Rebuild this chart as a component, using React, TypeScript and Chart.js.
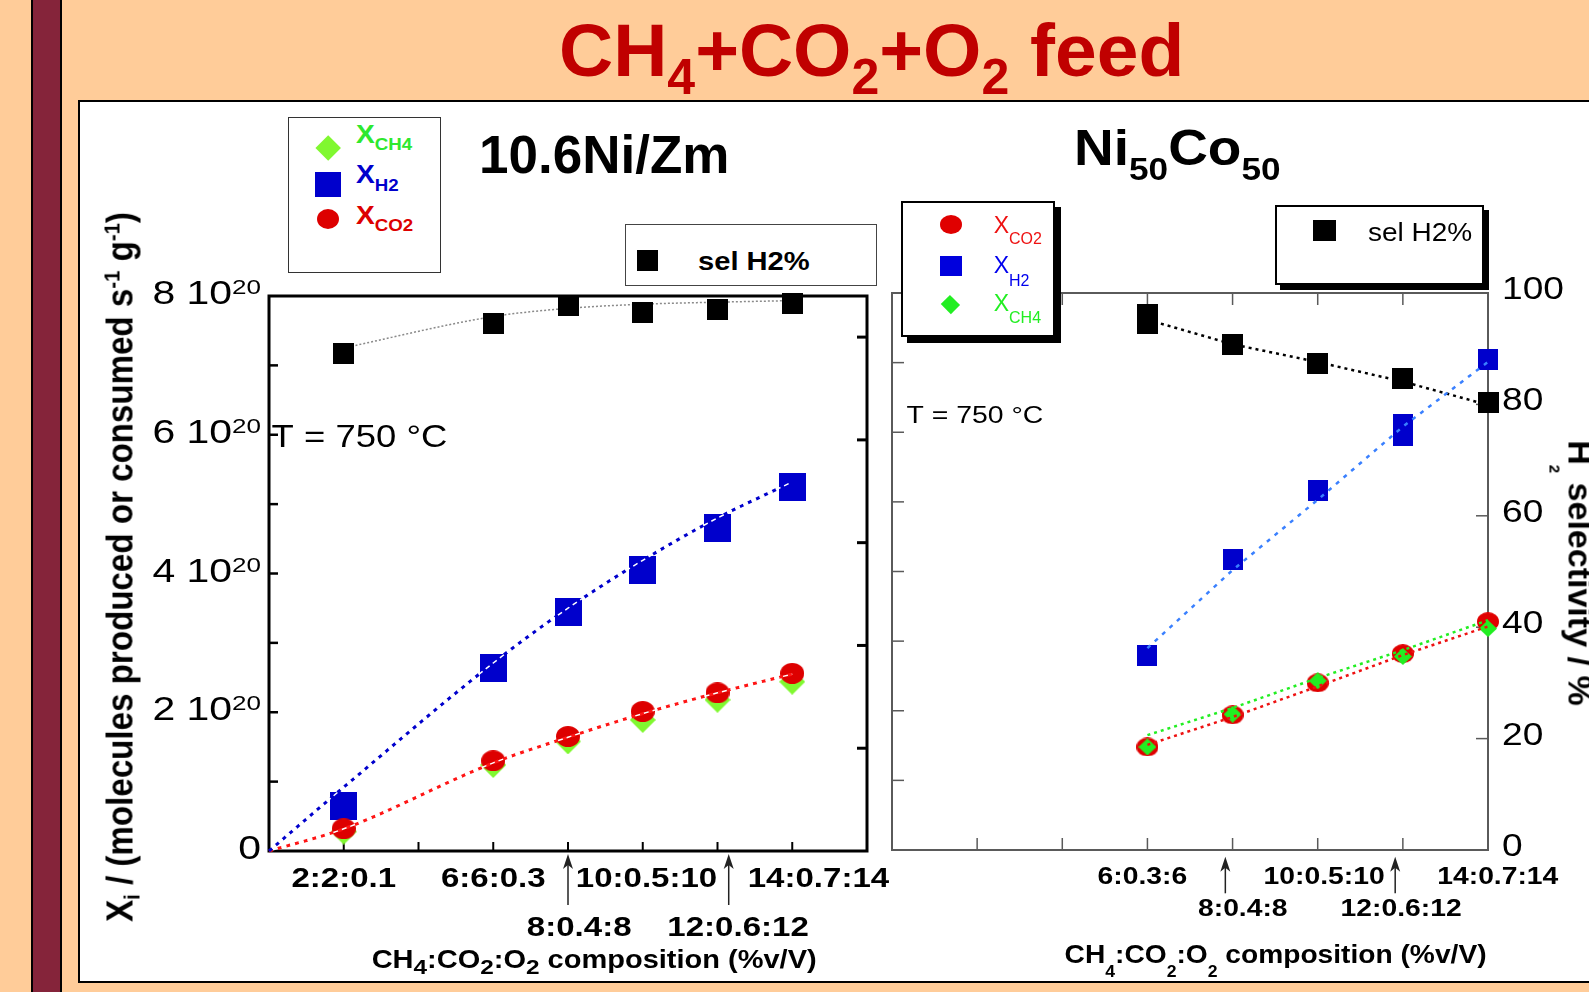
import React, { useEffect, useRef } from 'react';
import { Chart, registerables } from 'chart.js';
Chart.register(...registerables);

const FONT = "'Liberation Sans', Arial, Helvetica, sans-serif";

// ---------------- Left panel: 10.6Ni/Zm ----------------
const leftComposition = [2, 6, 8, 10, 12, 14]; // CH4 %v/V
const leftSelH2 = [96.9, 102.7, 106.2, 104.8, 105.4, 106.6];
const leftXH2 = [0.65, 2.64, 3.44, 4.05, 4.65, 5.24];
const leftXCO2 = [0.32, 1.3, 1.65, 2.01, 2.28, 2.56];
const leftXCH4 = [0.28, 1.24, 1.58, 1.89, 2.18, 2.44];
const leftFitComposition = [0, 2, 6, 8, 10, 12, 14];
const leftFitH2 = [0, 0.92, 2.71, 3.5, 4.19, 4.8, 5.32];
const leftFitCO2 = [0, 0.32, 1.27, 1.64, 1.98, 2.28, 2.55];
const leftFitSel = [97.9, 104.0, 105.6, 106.4, 106.8, 107.1];
const leftRow1Labels = ['2:2:0.1', '6:6:0.3', '10:0.5:10', '14:0.7:14'];
const leftRow2Labels = ['8:0.4:8', '12:0.6:12'];
const leftYTickValues = [0, 2, 4, 6, 8];
const leftYTickMantissas = ['0', '2 10', '4 10', '6 10', '8 10'];
const leftYTickExponents = ['', '20', '20', '20', '20'];

// ---------------- Right panel: Ni50Co50 ----------------
const rightComposition = [6, 8, 10, 12, 14];
const rightSelComposition = [6, 6, 8, 10, 12, 14];
const rightSelH2 = [96.1, 94.6, 90.8, 87.3, 84.6, 80.3];
const rightSelFit = [95.2, 90.8, 87.6, 84.1, 79.9];
const rightH2Composition = [6, 8, 10, 12, 12, 14];
const rightXH2 = [2.79, 4.17, 5.17, 6.11, 5.95, 7.04];
const rightXCO2 = [1.48, 1.94, 2.4, 2.82, 3.28];
const rightXCH4 = [1.48, 1.95, 2.43, 2.78, 3.18];
const rightFitH2 = [2.9, 4.02, 5.03, 6.08, 7.01];
const rightFitCO2 = [1.51, 1.91, 2.35, 2.8, 3.21];
const rightFitCH4 = [1.65, 2.04, 2.47, 2.87, 3.3];
const rightRow1Labels = ['6:0.3:6', '10:0.5:10', '14:0.7:14'];
const rightRow2Labels = ['8:0.4:8', '12:0.6:12'];
const rightY2TickValues = [0, 20, 40, 60, 80, 100];

// layout (label anchor positions in axis units)
const LEFT_LAYOUT = { row1At: [2, 6, 10.1, 14.7], row2At: [8.3, 12.55], arrowsAt: [8, 12.3], titleAt: 8.7, tAt: [0.07, 5.83] };
const RIGHT_LAYOUT = { row1At: [5.88, 10.15, 14.23], row2At: [8.24, 11.96], arrowsAt: [7.83, 11.82], titleAt: 9.01, tAt: [0.34, 6.14] };

type Seg = { t: string; size: number; bold?: boolean; dy?: number };

function drawRich(ctx: CanvasRenderingContext2D, segs: Seg[], x: number, y: number, align: string, stretch: number, color: string) {
  ctx.save();
  ctx.fillStyle = color;
  ctx.textBaseline = 'alphabetic';
  ctx.textAlign = 'left';
  let w = 0;
  const widths = segs.map((s) => {
    ctx.font = `${s.bold ? 'bold ' : ''}${s.size}px ${FONT}`;
    const m = ctx.measureText(s.t).width;
    w += m;
    return m;
  });
  const total = w * stretch;
  const x0 = align === 'left' ? x : align === 'center' ? x - total / 2 : x - total;
  ctx.translate(x0, y);
  ctx.scale(stretch, 1);
  let cx = 0;
  segs.forEach((s, i) => {
    ctx.font = `${s.bold ? 'bold ' : ''}${s.size}px ${FONT}`;
    ctx.fillText(s.t, cx, s.dy || 0);
    cx += widths[i];
  });
  ctx.restore();
}

function seg(ctx: CanvasRenderingContext2D, x1: number, y1: number, x2: number, y2: number) {
  ctx.beginPath();
  ctx.moveTo(x1, y1);
  ctx.lineTo(x2, y2);
  ctx.stroke();
}

function arrow(ctx: CanvasRenderingContext2D, x: number, yTip: number, yTail: number) {
  ctx.save();
  ctx.strokeStyle = '#222';
  ctx.fillStyle = '#222';
  ctx.lineWidth = 1.5;
  seg(ctx, x, yTail, x, yTip + 6);
  ctx.beginPath();
  ctx.moveTo(x, yTip);
  ctx.lineTo(x - 5, yTip + 15);
  ctx.lineTo(x, yTip + 11);
  ctx.lineTo(x + 5, yTip + 15);
  ctx.closePath();
  ctx.fill();
  ctx.restore();
}

function innerTicks(scale: any, step: number) {
  return scale.ticks
    .map((t: any) => t.value)
    .filter((v: number) => v > scale.min + 1e-9 && v < scale.max - 1e-9 && Math.abs(v / step - Math.round(v / step)) < 1e-6);
}

function marker(shape: string, w: number, h: number, color: string): HTMLCanvasElement {
  const c = document.createElement('canvas');
  c.width = Math.ceil(w);
  c.height = Math.ceil(h);
  const g = c.getContext('2d') as CanvasRenderingContext2D;
  g.fillStyle = color;
  g.beginPath();
  if (shape === 'rect') g.rect(0, 0, w, h);
  else if (shape === 'ellipse') g.ellipse(w / 2, h / 2, w / 2, h / 2, 0, 0, Math.PI * 2);
  else {
    g.moveTo(w / 2, 0);
    g.lineTo(w, h / 2);
    g.lineTo(w / 2, h);
    g.lineTo(0, h / 2);
    g.closePath();
  }
  g.fill();
  return c;
}

const pts = (xs: number[], ys: number[]) => xs.map((x, i) => ({ x, y: ys[i] }));

const leftDecor = {
  id: 'leftDecor',
  beforeDatasetsDraw(chart: any) {
    const { ctx, chartArea: a, scales } = chart;
    ctx.save();
    ctx.strokeStyle = '#000';
    ctx.lineWidth = 2.5;
    innerTicks(scales.y, 1).forEach((v: number) => {
      const py = scales.y.getPixelForValue(v);
      seg(ctx, a.left, py, a.left + 9, py);
    });
    ctx.lineWidth = 3;
    innerTicks(scales.y2, 20).forEach((v: number) => {
      const py = scales.y2.getPixelForValue(v);
      seg(ctx, a.right - 10, py, a.right, py);
    });
    ctx.lineWidth = 2;
    innerTicks(scales.x, 2).forEach((v: number) => {
      const px = scales.x.getPixelForValue(v);
      seg(ctx, px, a.bottom, px, a.bottom - 9);
    });
    ctx.lineWidth = 3;
    ctx.strokeRect(a.left, a.top, a.right - a.left, a.bottom - a.top);
    ctx.restore();
  },
  afterDraw(chart: any) {
    const { ctx, chartArea: a, scales } = chart;
    const { x, y } = scales;
    leftYTickValues.forEach((v, i) => {
      const py = y.getPixelForValue(v);
      const segs: Seg[] = [{ t: leftYTickMantissas[i], size: 33 }];
      if (leftYTickExponents[i]) segs.push({ t: leftYTickExponents[i], size: 21, dy: -10 });
      drawRich(ctx, segs, a.left - 8, py + 8, 'right', 1.24, '#000');
    });
    leftRow1Labels.forEach((t, i) =>
      drawRich(ctx, [{ t, size: 28, bold: true }], x.getPixelForValue(LEFT_LAYOUT.row1At[i]), a.bottom + 35.7, 'center', 1.18, '#000'));
    leftRow2Labels.forEach((t, i) =>
      drawRich(ctx, [{ t, size: 28, bold: true }], x.getPixelForValue(LEFT_LAYOUT.row2At[i]), a.bottom + 85, 'center', 1.18, '#000'));
    LEFT_LAYOUT.arrowsAt.forEach((v) => arrow(ctx, x.getPixelForValue(v), a.bottom + 3, a.bottom + 54));
    drawRich(ctx, [
      { t: 'CH', size: 25, bold: true }, { t: '4', size: 21, bold: true, dy: 6 },
      { t: ':CO', size: 25, bold: true }, { t: '2', size: 21, bold: true, dy: 6 },
      { t: ':O', size: 25, bold: true }, { t: '2', size: 21, bold: true, dy: 6 },
      { t: ' composition (%v/V)', size: 25, bold: true },
    ], x.getPixelForValue(LEFT_LAYOUT.titleAt), a.bottom + 117, 'center', 1.16, '#000');
    drawRich(ctx, [{ t: 'T = 750 °C', size: 32 }], x.getPixelForValue(LEFT_LAYOUT.tAt[0]), y.getPixelForValue(LEFT_LAYOUT.tAt[1]), 'left', 1.14, '#000');
  },
};

const rightDecor = {
  id: 'rightDecor',
  beforeDatasetsDraw(chart: any) {
    const { ctx, chartArea: a, scales } = chart;
    ctx.save();
    ctx.strokeStyle = '#5a5a5a';
    ctx.lineWidth = 1.5;
    innerTicks(scales.y, 1).forEach((v: number) => {
      const py = scales.y.getPixelForValue(v);
      seg(ctx, a.left, py, a.left + 12, py);
    });
    innerTicks(scales.y2, 20).forEach((v: number) => {
      const py = scales.y2.getPixelForValue(v);
      seg(ctx, a.right - 12, py, a.right, py);
    });
    innerTicks(scales.x, 2).forEach((v: number) => {
      const px = scales.x.getPixelForValue(v);
      seg(ctx, px, a.bottom, px, a.bottom - 12);
      seg(ctx, px, a.top, px, a.top + 12);
    });
    ctx.lineWidth = 2;
    ctx.strokeRect(a.left, a.top, a.right - a.left, a.bottom - a.top);
    ctx.restore();
  },
  afterDraw(chart: any) {
    const { ctx, chartArea: a, scales } = chart;
    const { x, y, y2 } = scales;
    rightY2TickValues.forEach((v) =>
      drawRich(ctx, [{ t: String(v), size: 31.5 }], a.right + 14, y2.getPixelForValue(v) + 6, 'left', 1.18, '#000'));
    rightRow1Labels.forEach((t, i) =>
      drawRich(ctx, [{ t, size: 24.6, bold: true }], x.getPixelForValue(RIGHT_LAYOUT.row1At[i]), a.bottom + 34.3, 'center', 1.15, '#000'));
    rightRow2Labels.forEach((t, i) =>
      drawRich(ctx, [{ t, size: 24.6, bold: true }], x.getPixelForValue(RIGHT_LAYOUT.row2At[i]), a.bottom + 65.7, 'center', 1.15, '#000'));
    RIGHT_LAYOUT.arrowsAt.forEach((v) => arrow(ctx, x.getPixelForValue(v), a.bottom + 6.7, a.bottom + 43.3));
    drawRich(ctx, [
      { t: 'CH', size: 25.6, bold: true }, { t: '4', size: 16, bold: true, dy: 13.4 },
      { t: ':CO', size: 25.6, bold: true }, { t: '2', size: 16, bold: true, dy: 13.4 },
      { t: ':O', size: 25.6, bold: true }, { t: '2', size: 16, bold: true, dy: 13.4 },
      { t: ' composition (%v/V)', size: 25.6, bold: true },
    ], x.getPixelForValue(RIGHT_LAYOUT.titleAt), a.bottom + 113.3, 'center', 1.1, '#000');
    drawRich(ctx, [{ t: 'T = 750 °C', size: 24.7 }], x.getPixelForValue(RIGHT_LAYOUT.tAt[0]), y.getPixelForValue(RIGHT_LAYOUT.tAt[1]), 'left', 1.15, '#000');
  },
};

const baseOptions = (padding: any, xMax: number, y2Max: number) => ({
  responsive: false,
  animation: false as const,
  events: [] as any[],
  layout: { padding },
  plugins: { legend: { display: false }, tooltip: { enabled: false } },
  scales: {
    x: { type: 'linear' as const, min: 0, max: xMax, display: false, ticks: { stepSize: 2 } },
    y: { type: 'linear' as const, min: 0, max: 8, display: false, ticks: { stepSize: 1 } },
    y2: { type: 'linear' as const, position: 'right' as const, min: 0, max: y2Max, display: false, ticks: { stepSize: 20 } },
  },
});

const lineDs = (data: any[], color: string, width: number, dash: number[], extra: any = {}) => ({
  data,
  showLine: true,
  borderColor: color,
  borderWidth: width,
  borderDash: dash,
  pointRadius: 0,
  fill: false,
  clip: false,
  cubicInterpolationMode: 'monotone',
  ...extra,
});

const markerDs = (data: any[], style: HTMLCanvasElement, extra: any = {}) => ({
  data,
  showLine: false,
  pointStyle: style,
  pointRadius: 10,
  pointBackgroundColor: 'transparent',
  pointBorderWidth: 0,
  clip: false,
  ...extra,
});

function Txt(props: any) {
  const { x, base, size, bold, color = '#000', sx = 1, children } = props;
  return (
    <div
      style={{
        position: 'absolute',
        left: x,
        top: base - 0.8465 * size,
        fontSize: size,
        lineHeight: `${size}px`,
        fontWeight: bold ? 700 : 400,
        color,
        whiteSpace: 'nowrap',
        fontFamily: FONT,
        transform: sx !== 1 ? `scaleX(${sx})` : undefined,
        transformOrigin: 'left center',
      }}
    >
      {children}
    </div>
  );
}

const sub = (t: string, size: number, dy: number) => (
  <span style={{ fontSize: size, position: 'relative', top: dy }}>{t}</span>
);

export default function App() {
  const leftRef = useRef<HTMLCanvasElement>(null);
  const rightRef = useRef<HTMLCanvasElement>(null);

  useEffect(() => {
    const L = {
      black: marker('rect', 21, 21, '#000'),
      blue: marker('rect', 27, 28, '#0000CC'),
      red: marker('ellipse', 24, 21, '#DD0000'),
      green: marker('diamond', 26, 26, '#80F830'),
    };
    const R = {
      black: marker('rect', 21, 21, '#000'),
      blue: marker('rect', 20, 21, '#0000CC'),
      red: marker('ellipse', 22, 19, '#E00000'),
      green: marker('diamond', 18, 17, '#22EE22'),
    };

    const left = new Chart(leftRef.current as HTMLCanvasElement, {
      type: 'scatter',
      data: {
        datasets: [
          lineDs(pts(leftFitComposition, leftFitH2), '#FFFFFF', 1.5, [5, 4], { borderDashOffset: 5 }),
          lineDs(pts(leftFitComposition, leftFitH2), '#0000CC', 3, [4, 5]),
          lineDs(pts(leftFitComposition, leftFitCO2), '#FFFFFF', 1.5, [5, 4], { borderDashOffset: 5 }),
          lineDs(pts(leftFitComposition, leftFitCO2), '#FF1515', 3, [4, 5]),
          markerDs(pts(leftComposition, leftXCO2), L.red),
          markerDs(pts(leftComposition, leftXCH4), L.green),
          markerDs(pts(leftComposition, leftXH2), L.blue),
          markerDs(pts(leftComposition, leftSelH2), L.black, { yAxisID: 'y2' }),
          lineDs(pts(leftComposition, leftFitSel), '#8a8a8a', 1.5, [2, 2], { yAxisID: 'y2' }),
        ] as any,
      },
      options: baseOptions({ left: 189, right: 43, top: 194, bottom: 131 }, 16, 108) as any,
      plugins: [leftDecor],
    });

    const right = new Chart(rightRef.current as HTMLCanvasElement, {
      type: 'scatter',
      data: {
        datasets: [
          lineDs(pts(rightComposition, rightFitCH4), '#22EE22', 2.5, [3, 4], { cubicInterpolationMode: 'default', tension: 0 }),
          lineDs(pts(rightComposition, rightFitCO2), '#EE1111', 2.5, [3, 4], { cubicInterpolationMode: 'default', tension: 0 }),
          markerDs(pts(rightComposition, rightXCH4), R.green),
          markerDs(pts(rightComposition, rightXCO2), R.red),
          lineDs(pts(rightComposition, rightFitH2), '#3A80FF', 2.5, [4, 6], { cubicInterpolationMode: 'default', tension: 0 }),
          markerDs(pts(rightH2Composition, rightXH2), R.blue),
          lineDs(pts(rightComposition, rightSelFit), '#000000', 2.5, [3, 4], { yAxisID: 'y2', cubicInterpolationMode: 'default', tension: 0 }),
          markerDs(pts(rightSelComposition, rightSelH2), R.black, { yAxisID: 'y2' }),
        ] as any,
      },
      options: baseOptions({ left: 22, right: 101, top: 191, bottom: 132 }, 14, 100) as any,
      plugins: [rightDecor],
    });

    return () => {
      left.destroy();
      right.destroy();
    };
  }, []);

  const box = (l: number, t: number, w: number, h: number, extra: any = {}) => ({
    position: 'absolute' as const,
    left: l,
    top: t,
    width: w,
    height: h,
    boxSizing: 'border-box' as const,
    ...extra,
  });

  return (
    <div style={{ position: 'absolute', left: 0, top: 0, width: 1589, height: 992, overflow: 'hidden', background: '#FFCC99', fontFamily: FONT }}>
      {/* maroon side bar */}
      <div style={box(31, -5, 31, 1010, { background: '#85243A', border: '2px solid #000' })} />
      {/* white panel */}
      <div style={box(78, 100, 1620, 883, { background: '#FFFFFF', border: '2.5px solid #000' })} />
      {/* slide title */}
      <Txt x={559} base={76} size={75} bold color="#C00000">
        CH{sub('4', 50, 18)}+CO{sub('2', 50, 18)}+O{sub('2', 50, 18)} feed
      </Txt>

      <canvas ref={leftRef} width={830} height={880} style={{ position: 'absolute', left: 80, top: 102 }} />
      <canvas ref={rightRef} width={719} height={880} style={{ position: 'absolute', left: 870, top: 102 }} />

      {/* left chart title */}
      <Txt x={479} base={173.3} size={53} bold>10.6Ni/Zm</Txt>
      {/* left legend */}
      <div style={box(288, 117, 153, 156, { background: '#fff', border: '1px solid #333' })} />
      <div style={box(328 - 9.2, 148 - 9.2, 18.4, 18.4, { background: '#80F830', transform: 'rotate(45deg)' })} />
      <div style={box(315, 172, 26, 25, { background: '#0000CC' })} />
      <div style={box(317, 209, 22, 20, { background: '#DD0000', borderRadius: '50%' })} />
      <Txt x={355.5} base={143.3} size={25.6} bold color="#2EE82E" sx={1.1}>X{sub('CH4', 17, 7.7)}</Txt>
      <Txt x={355.5} base={184} size={25.6} bold color="#0000CC" sx={1.1}>X{sub('H2', 17, 8)}</Txt>
      <Txt x={355.5} base={225} size={25.6} bold color="#DD0000" sx={1.1}>X{sub('CO2', 17, 7)}</Txt>
      <div style={box(625, 224, 252, 62, { background: '#fff', border: '1px solid #444' })} />
      <div style={box(636.5, 250, 21.5, 21, { background: '#000' })} />
      <Txt x={698} base={270} size={26} bold sx={1.12}>sel H2%</Txt>

      {/* right chart title */}
      <Txt x={1074} base={165.5} size={50} bold sx={1.1}>
        Ni{sub('50', 32, 14.5)}Co{sub('50', 32, 14.5)}
      </Txt>
      {/* right legends */}
      <div style={box(901, 201, 154, 136, { background: '#fff', border: '2px solid #000', boxShadow: '6px 6px 0 #000' })} />
      <div style={box(940, 214.8, 22, 19, { background: '#E00000', borderRadius: '50%' })} />
      <div style={box(940, 256, 22, 20, { background: '#0000DD' })} />
      <div style={box(950.7 - 6.4, 304 - 6.4, 12.8, 12.8, { background: '#22EE22', transform: 'rotate(45deg) scaleX(1.1)' })} />
      <Txt x={993.7} base={233.3} size={23} color="#EE1111">X{sub('CO2', 16, 10.7)}</Txt>
      <Txt x={993.7} base={273.3} size={23} color="#0000EE">X{sub('H2', 16, 12.7)}</Txt>
      <Txt x={993.7} base={311.7} size={23} color="#22EE22">X{sub('CH4', 16, 11.6)}</Txt>
      <div style={box(1275, 205, 209, 80, { background: '#fff', border: '2px solid #000', boxShadow: '5px 5px 0 #000' })} />
      <div style={box(1313, 220, 23, 21, { background: '#000' })} />
      <Txt x={1367.6} base={240.7} size={25} sx={1.12}>sel H2%</Txt>

      {/* left y-axis title */}
      <div
        style={{
          position: 'absolute', left: 122.5, top: 566.5, fontSize: 36, lineHeight: '36px', fontWeight: 700,
          whiteSpace: 'nowrap', fontFamily: FONT, color: '#000',
          transform: 'translate(-50%, -50%) rotate(-90deg) scaleX(0.92)',
        }}
      >
        X{sub('i', 22, 7)} / (molecules produced or consumed s{sub('-1', 22, -13)} g{sub('-1', 22, -13)})
      </div>
      {/* right y-axis title */}
      <div
        style={{
          position: 'absolute', left: 1577, top: 573, fontSize: 34, lineHeight: '34px', fontWeight: 700,
          whiteSpace: 'nowrap', fontFamily: FONT, color: '#000',
          transform: 'translate(-50%, -50%) rotate(90deg)',
        }}
      >
        H{sub('2', 15, 19)} selectivity / %
      </div>
    </div>
  );
}
